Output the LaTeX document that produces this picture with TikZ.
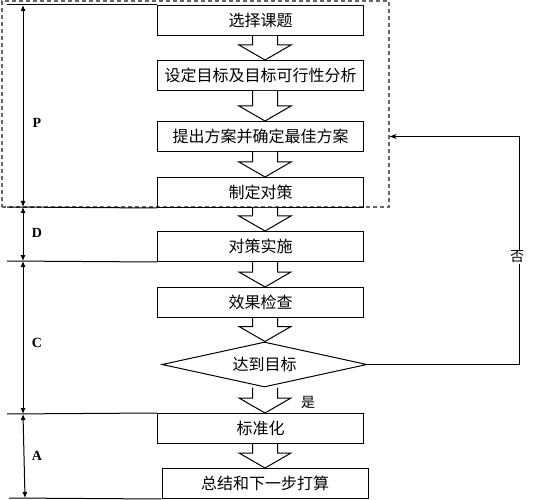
\documentclass[tikz,border=0pt]{standalone}
\usepackage{fontspec}
\setmainfont{Liberation Serif}
\newfontfamily\cjk{Noto Sans CJK SC}
\usetikzlibrary{shapes.geometric,arrows.meta,calc}
\begin{document}
\begin{tikzpicture}[x=1pt, y=-1pt,
        boxnode/.style={draw,rectangle,line width=1pt,minimum width=206pt,minimum height=30pt,inner sep=0pt,font=\cjk\fontsize{16}{18}\selectfont},
        goalnode/.style={draw,diamond,aspect=4.55,line width=1pt,minimum width=205pt,minimum height=45pt,inner sep=0pt,font=\cjk\fontsize{16}{18}\selectfont},
        fatarrow/.style={draw,line width=1pt,fill=white},
        phasenode/.style={font=\bfseries\fontsize{14}{16}\selectfont},
        marknode/.style={font=\cjk\fontsize{14}{16}\selectfont}
        ]
        \useasboundingbox (0,0) rectangle (536,500);
        % dashed frame round the P part
        \node[draw=gray!80!black,dash pattern=on 4pt off 3pt,line width=1.3pt,minimum width=387pt,minimum height=206pt,inner sep=0pt] (pbox) at (195.5,104) {};
        % steps
        \node[boxnode] (b1) at (260.5,20.5) {选择课题};
        \node[boxnode] (b2) at (260.5,75.5) {设定目标及目标可行性分析};
        \node[boxnode] (b3) at (260.5,136.5) {提出方案并确定最佳方案};
        \node[boxnode] (b4) at (260.5,192.5) {制定对策};
        \node[boxnode] (b5) at (260.5,246.5) {对策实施};
        \node[boxnode] (b6) at (260.5,302.5) {效果检查};
        \node[goalnode] (goal) at (264.5,364.5) {达到目标};
        \node[boxnode] (b7) at (260.5,428.5) {标准化};
        \node[boxnode] (b8) at (265,483.5) {总结和下一步打算};
        \coordinate (ax) at (265,0);
        % hollow arrows
        \foreach \a/\b in {b1/b2,b2/b3,b3/b4,b4/b5,b5/b6,b6/goal,goal/b7,b7/b8}
          \draw[fatarrow] let \p1=(\a.south), \p2=(\b.north), \p3=(ax) in
            (\x3-12.5pt,\y1) -- (\x3-12.5pt,\y2+15pt) -- (\x3-26pt,\y2+15pt) -- (\x3,\y2)
            -- (\x3+26pt,\y2+15pt) -- (\x3+12.5pt,\y2+15pt) -- (\x3+12.5pt,\y1);
        \node[marknode] (yes) at (308,402) {是};
        % feedback
        \coordinate (fb) at (519,250);
        \draw[line width=1pt,-{Stealth[length=7pt,width=5pt]}] (goal.east) -- (goal.east -| fb) -- (fb |- b3) -- (pbox.east |- b3);
        \node[marknode,fill=white,inner sep=1pt] (no) at (517,257) {否};
        % phase marks on the left
        \coordinate (k0) at (7,5);
        \coordinate (k1) at (7,207);
        \coordinate (k2) at (7,261);
        \coordinate (k3) at (7,414);
        \coordinate (k4) at (9,498);
        \draw[line width=1pt] (k0) -- (b1.north west);
        \draw[line width=1pt] (k1) -- (b4.south west);
        \draw[line width=1pt] (k2) -- (b5.south west);
        \draw[line width=1pt] (k3) -- (b7.north west);
        \draw[line width=1pt] (k4) -- (b8.south west);
        \foreach \u/\v in {k0/k1,k1/k2,k2/k3,k3/k4}
          \draw[line width=1pt,{Latex[length=6pt,width=5pt]}-{Latex[length=6pt,width=5pt]}] ($(\u)+(16,0)$ |- \u) -- ($(\v)+(16,0)$ |- \v);
        \node[phasenode] (P) at (37,123) {P};
        \node[phasenode] (D) at (37,233) {D};
        \node[phasenode] (C) at (37,343) {C};
        \node[phasenode] (A) at (37,456) {A};
\end{tikzpicture}
\end{document}
